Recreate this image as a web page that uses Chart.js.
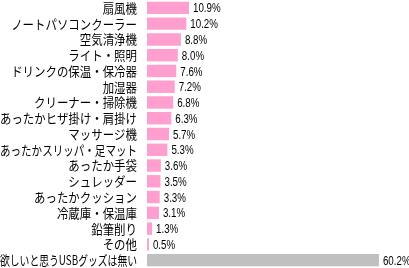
<!DOCTYPE html>
<html lang="ja">
<head>
  <meta charset="UTF-8">
  <title>欲しいUSBグッズ</title>
  <script src="https://cdn.jsdelivr.net/npm/chart.js"></script>
  <style>
    html, body {
      margin: 0;
      padding: 0;
      background: #FFFFFF;
    }
    .chart-box {
      width: 409px;
      height: 268px;
    }
  </style>
</head>
<body>
  <div class="chart-box"><canvas id="usbChart"></canvas></div>

  <script>
    const categories = [
      "扇風機", "ノートパソコンクーラー", "空気清浄機", "ライト・照明",
      "ドリンクの保温・保冷器", "加湿器", "クリーナー・掃除機",
      "あったかヒザ掛け・肩掛け", "マッサージ機", "あったかスリッパ・足マット",
      "あったか手袋", "シュレッダー", "あったかクッション", "冷蔵庫・保温庫",
      "鉛筆削り", "その他", "欲しいと思うUSBグッズは無い"
    ];
    const values = [10.9, 10.2, 8.8, 8.0, 7.6, 7.2, 6.8, 6.3, 5.7, 5.3, 3.6, 3.5, 3.3, 3.1, 1.3, 0.5, 60.2];

    const PINK = '#FF9FCF';
    const GRAY = '#C0C0C0';
    const barColors = categories.map((c, i) => i === categories.length - 1 ? GRAY : PINK);

    const AXIS_W = 147;
    const LABEL_GAP = 10;

    // draw text, squeezing it sideways (and more if it is wider than maxW)
    function fitText(ctx, text, x, y, maxW, squeeze) {
      const w = ctx.measureText(text).width;
      let sx = squeeze || 1;
      if (maxW && w * sx > maxW) sx = maxW / w;
      ctx.save();
      ctx.translate(x, y);
      ctx.scale(sx, 1);
      ctx.fillText(text, 0, 0);
      ctx.restore();
    }

    // category labels on the left, placed with the y scale
    const categoryLabels = {
      id: 'categoryLabels',
      afterDraw(chart) {
        const ctx = chart.ctx;
        const yScale = chart.scales.y;
        const right = chart.chartArea.left - LABEL_GAP;
        ctx.save();
        ctx.font = '13px "Noto Sans CJK JP", sans-serif';
        ctx.fillStyle = '#000000';
        ctx.textAlign = 'right';
        ctx.textBaseline = 'middle';
        categories.forEach((label, i) => {
          fitText(ctx, label, right, yScale.getPixelForValue(i), right, 0.88);
        });
        ctx.restore();
      }
    };

    // value labels to the right of each bar
    const valueLabels = {
      id: 'valueLabels',
      afterDatasetsDraw(chart) {
        const ctx = chart.ctx;
        const meta = chart.getDatasetMeta(0);
        ctx.save();
        ctx.font = '13px "Liberation Sans", Arial, sans-serif';
        ctx.fillStyle = '#000000';
        ctx.textAlign = 'left';
        ctx.textBaseline = 'middle';
        meta.data.forEach((bar, i) => {
          fitText(ctx, values[i].toFixed(1) + '%', bar.x + 4, bar.y + 1, 0, 0.75);
        });
        ctx.restore();
      }
    };

    new Chart(document.getElementById('usbChart'), {
      type: 'bar',
      data: {
        labels: categories,
        datasets: [{
          data: values,
          backgroundColor: barColors,
          borderWidth: 0,
          categoryPercentage: 1,
          barPercentage: 0.79
        }]
      },
      options: {
        indexAxis: 'y',
        responsive: true,
        maintainAspectRatio: false,
        animation: false,
        layout: { padding: 0 },
        plugins: {
          legend: { display: false },
          tooltip: { enabled: false }
        },
        scales: {
          x: {
            display: false,
            min: 0,
            max: 68
          },
          y: {
            border: { display: false },
            grid: { display: false, drawTicks: false },
            ticks: { display: false },
            afterFit(scale) {
              scale.width = AXIS_W;
            }
          }
        }
      },
      plugins: [valueLabels, categoryLabels]
    });
  </script>
</body>
</html>
